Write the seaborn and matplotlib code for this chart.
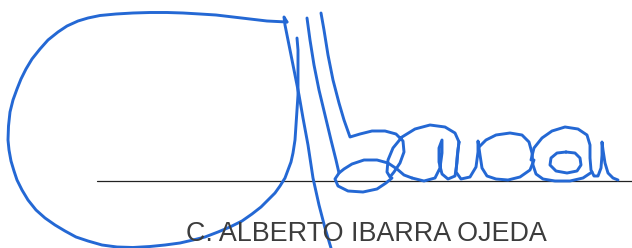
import matplotlib
matplotlib.use("Agg")
import matplotlib.pyplot as plt
import numpy as np
import pandas as pd
import seaborn as sns

# signature strokes, pixel coords (x right, y down)
stroke_loop = [(287,22),(277,21.5),(267,21),(250,19),(233,17),(216,15),(200,14),(183,13),
               (167,12.5),(150,12.5),(133,13),(116,14),(100,15.5),(88,18),(78,21),(67,26),
               (58,32),(48,40),(40,49),(32,59),(26,69),(21,79),(17,89),(13,100),(10,112),
               (8.5,126),(8,140),(9,150),(11,161),(14,171),(17,180),(22,190),(28,200),(36,210),
               (45,218),(55,225),(65,231),(76,237),(88,241),(102,245),(117,247),(133,247.5),
               (150,246.5),(165,245),(180,243),(193,240),(205,237),(218,232),(230,227),
               (242,221),(252,214),(261,207),(268,200),(275,193),(280,186),(285,178),
               (288,170),(291,162),(293,153),(295,140),(296,125),(297,110),(298,95),
               (298,80),(298,65),(298,50),(297,38)]
stroke_a = [(287,22),(284,17),(285,25),(289,45),(294,70),(299,95),(303,118),(308,145),
            (313,178),(319,205),(325,228),(331,248)]
stroke_b = [(307,18),(310,40),(314,65),(319,90),(325,115),(331,140),(336,160),(339,173),
            (344,169),(352,164),(364,160),(377,160),(388,163),(397,169),(404,175),(412,178)]
stroke_b_loop = [(339,173),(335,179),(338,186),(348,191),(363,192),(377,189),(386,183),(392,178)]
stroke_c = [(321,13),(324,30),(328,55),(333,80),(339,103),(344,120),(350,137),(360,134),
            (372,131),(385,131),(396,134),(403,141),(404,152),(400,163),(394,172),(390,177),
            (387,172),(388,160),(393,148),(402,137),(415,129),(430,125),(445,127),(455,133),(459,142)]
stroke_u1 = [(412,178),(424,181),(435,178),(440,168),(442,153),(442,140),(439,148),(439,162),
             (442,174),(448,179),(455,176),(457,163),(458,150),(459,142)]
stroke_u2 = [(459,142),(457,158),(456,172),(461,179),(470,177),(476,167),(478,152),(478,141),
             (480,155),(482,168),(487,176),(496,179),(508,180),(520,177),(530,170),(534,160)]
stroke_arc = [(479,147),(486,140),(496,135),(510,133),(522,135),(529,142),(532,153),(533,165),
              (536,174),(543,179),(555,181),(570,181),(583,178),(592,172)]
stroke_o = [(531,160),(534,148),(542,138),(552,131),(565,127),(578,129),(587,135),(590,145),
            (590,158),(591,170),(594,176),(598,176),(601,168),(602,155),(602,142),(603,150),
            (605,163),(608,173),(613,178),(618,180)]
stroke_inner = [(566,152),(575,153),(580,158),(581,165),(577,171),(567,173),(556,171),
                (550,165),(551,158),(557,153),(566,152)]

strokes = [stroke_loop, stroke_a, stroke_b, stroke_b_loop, stroke_c,
           stroke_u1, stroke_u2, stroke_arc, stroke_o, stroke_inner]

rule_x = [97, 632]
rule_y = [181, 181]
name = "C. ALBERTO IBARRA OJEDA"

rows = []
for i, s in enumerate(strokes):
    for j, (x, y) in enumerate(s):
        rows.append({"stroke": i, "order": j, "x": x, "y": y})
df = pd.DataFrame(rows)

sns.set_style("white")
fig = plt.figure(figsize=(6.32, 2.48), dpi=100)
ax = fig.add_axes([0, 0, 1, 1])

# signature line + printed name
sns.lineplot(x=rule_x, y=rule_y, color="#222222", linewidth=0.9, ax=ax)
ax.text(186, 241, name, fontsize=19.4, family="Liberation Sans", color="#3c3c3c", va="baseline")

# ink
sns.lineplot(data=df, x="x", y="y", units="stroke", estimator=None, sort=False,
             color="#2468d4", linewidth=2.1, ax=ax)
for line in ax.lines:
    line.set_solid_joinstyle("round")
    line.set_solid_capstyle("round")

ax.set_xlim(0, 632)
ax.set_ylim(248, 0)
ax.axis("off")
fig.savefig("out.png", dpi=100, facecolor="white")
